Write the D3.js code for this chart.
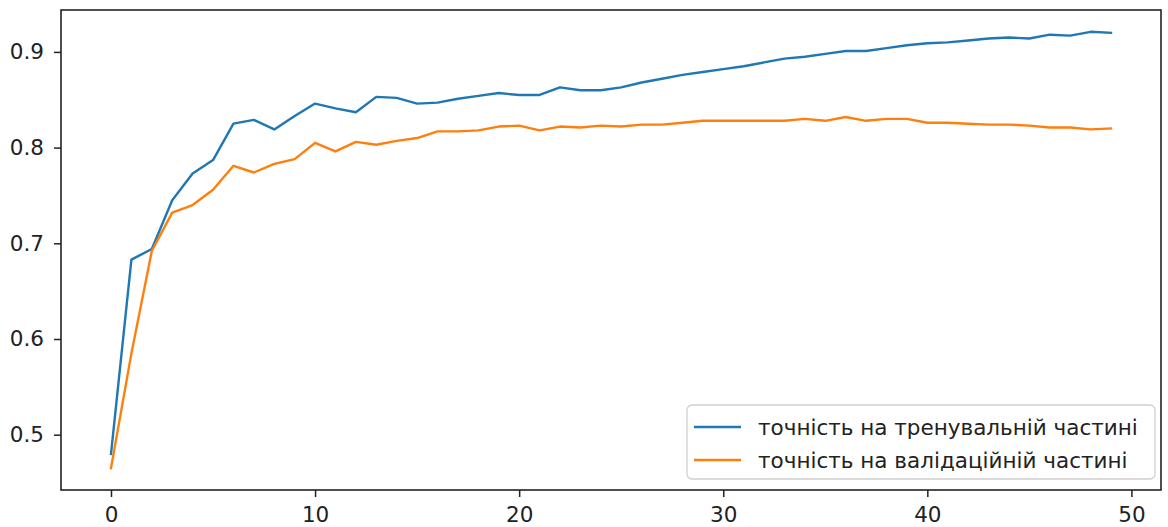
<!DOCTYPE html>
<html><head><meta charset="utf-8">
<script src="https://cdn.jsdelivr.net/npm/d3@7"></script>
<style>html,body{margin:0;padding:0;background:#fff;}svg{display:block;font-family:"DejaVu Sans",sans-serif;}</style>
</head><body>
<svg id="c" width="1168" height="527"></svg>
<script>
const epochs = d3.range(50);
const trainAcc = [0.480,0.683,0.694,0.745,0.773,0.787,0.825,0.829,0.819,0.833,
0.846,0.841,0.837,0.853,0.852,0.846,0.847,0.851,0.854,0.857,
0.855,0.855,0.863,0.860,0.860,0.863,0.868,0.872,0.876,0.879,
0.882,0.885,0.889,0.893,0.895,0.898,0.901,0.901,0.904,0.907,
0.909,0.910,0.912,0.914,0.915,0.914,0.918,0.917,0.921,0.920];
const valAcc = [0.465,0.585,0.692,0.732,0.740,0.756,0.781,0.774,0.783,0.788,
0.805,0.796,0.806,0.803,0.807,0.810,0.817,0.817,0.818,0.822,
0.823,0.818,0.822,0.821,0.823,0.822,0.824,0.824,0.826,0.828,
0.828,0.828,0.828,0.828,0.830,0.828,0.832,0.828,0.830,0.830,
0.826,0.826,0.825,0.824,0.824,0.823,0.821,0.821,0.819,0.820];
const seriesNames = ["точність на тренувальній частині","точність на валідаційній частині"];
const seriesColors = ["#1f77b4","#ff7f0e"];
const xTicks = [0,10,20,30,40,50];
const yTicks = [0.5,0.6,0.7,0.8,0.9];

const L=61, R=1161, T=10, B=490;
const FS = 21.5;
const svg = d3.select("#c");
const x = d3.scaleLinear().domain([-2.45,51.45]).range([L,R]);
const all = trainAcc.concat(valAcc);
const lo = d3.min(all), hi = d3.max(all), pad=(hi-lo)*0.05;
const y = d3.scaleLinear().domain([lo-pad,hi+pad]).range([B,T]);

const line = d3.line().x((d,i)=>x(epochs[i])).y(d=>y(d));
[trainAcc,valAcc].forEach((s,k)=>{
  svg.append("path").datum(s).attr("d",line).attr("fill","none")
    .attr("stroke",seriesColors[k]).attr("stroke-width",2.4).attr("stroke-linejoin","round").attr("stroke-linecap","square");
});

const xa = svg.append("g").attr("transform",`translate(0,${B})`)
  .call(d3.axisBottom(x).tickValues(xTicks).tickFormat(d3.format("d")).tickSizeOuter(0).tickSize(7).tickPadding(10));
const ya = svg.append("g").attr("transform",`translate(${L},0)`)
  .call(d3.axisLeft(y).tickValues(yTicks).tickFormat(d3.format(".1f")).tickSizeOuter(0).tickSize(7).tickPadding(10));
[xa,ya].forEach(g=>{
  g.select(".domain").remove();
  g.selectAll("text").attr("font-family","DejaVu Sans").attr("font-size",FS).attr("fill","#222");
  g.selectAll("line").attr("stroke","#222").attr("stroke-width",1.5);
});
svg.append("rect").attr("x",L).attr("y",T).attr("width",R-L).attr("height",B-T)
  .attr("fill","none").attr("stroke","#222").attr("stroke-width",1.6);

const lg = svg.append("g");
lg.append("rect").attr("x",687).attr("y",405).attr("width",468).attr("height",74).attr("rx",5)
  .attr("fill","#fff").attr("fill-opacity",0.8).attr("stroke","#d0d0d0").attr("stroke-width",1.3);
seriesNames.forEach((n,k)=>{
  const yy = 427 + k*33;
  lg.append("line").attr("x1",694).attr("x2",741).attr("y1",yy).attr("y2",yy)
    .attr("stroke",seriesColors[k]).attr("stroke-width",2.4);
  lg.append("text").attr("x",758).attr("y",yy).attr("dy","0.35em").attr("font-size",FS)
    .attr("fill","#222").text(n);
});
</script>
</body></html>
